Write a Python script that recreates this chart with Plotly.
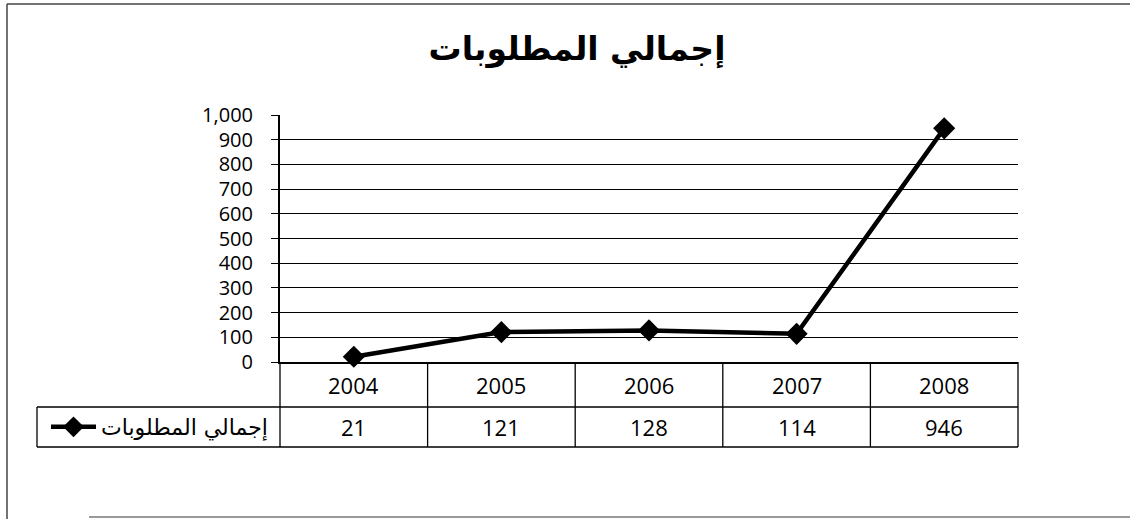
import plotly.graph_objects as go

years = ["2004", "2005", "2006", "2007", "2008"]
values = [21, 121, 128, 114, 946]
series_name = "إجمالي المطلوبات"
title_text = "إجمالي المطلوبات"
y_ticks = list(range(0, 1001, 100))

W, H = 1130, 519
L, R, T, B = 280, 1018, 115, 362  # plot area in px


def px(xp):
    return (xp - L) / (R - L)


def py(yp):
    return (B - yp) / (B - T)


fig = go.Figure()
fig.add_trace(go.Scatter(
    x=list(range(len(years))), y=values, mode="lines+markers", name=series_name,
    line=dict(color="black", width=4.5),
    marker=dict(symbol="diamond", size=17, color="black"),
    cliponaxis=False, showlegend=True,
))

shapes = []
line = dict(color="black", width=1.3)
row1 = 407
row2 = 447
shapes.append(dict(type="line", xref="paper", yref="paper", x0=px(L), x1=px(R), y0=py(row1), y1=py(row1), line=line))
shapes.append(dict(type="line", xref="paper", yref="paper", x0=px(37), x1=px(R), y0=py(row2), y1=py(row2), line=line))
shapes.append(dict(type="line", xref="paper", yref="paper", x0=px(37), x1=px(L), y0=py(row1), y1=py(row1), line=line))
shapes.append(dict(type="line", xref="paper", yref="paper", x0=px(37), x1=px(37), y0=py(row1), y1=py(row2), line=line))
for i in range(len(years) + 1):
    xb = i / len(years)
    shapes.append(dict(type="line", xref="paper", yref="paper", x0=xb, x1=xb, y0=0, y1=py(row2), line=line))

frame = dict(color="#444", width=1.5)
shapes.append(dict(type="line", xref="paper", yref="paper", x0=px(7), x1=px(7), y0=py(4), y1=py(519), line=frame))
shapes.append(dict(type="line", xref="paper", yref="paper", x0=px(7), x1=px(1130), y0=py(4), y1=py(4), line=frame))
shapes.append(dict(type="line", xref="paper", yref="paper", x0=px(89), x1=px(1130), y0=py(517), y1=py(517),
                   line=dict(color="#777", width=1.5)))

annotations = []
cell_font = dict(family="Open Sans", size=22, color="black")
for i, (yr, v) in enumerate(zip(years, values)):
    annotations.append(dict(x=i, xref="x", y=py(385), yref="paper", yanchor="middle", text=yr,
                            showarrow=False, font=cell_font))
    annotations.append(dict(x=i, xref="x", y=py(427), yref="paper", yanchor="middle", text=str(v),
                            showarrow=False, font=cell_font))

fig.update_layout(
    width=W, height=H,
    margin=dict(l=L, r=W - R, t=T, b=H - B),
    paper_bgcolor="white", plot_bgcolor="white",
    title=dict(text="<b>" + title_text + "</b>", x=577 / W, xanchor="center", y=1 - 48 / H, yanchor="middle",
               font=dict(family="DejaVu Sans", size=33, color="black")),
    xaxis=dict(range=[-0.5, len(years) - 0.5], showticklabels=False, showgrid=False, zeroline=False,
               showline=True, linecolor="black", linewidth=1.5, ticks=""),
    yaxis=dict(range=[0, 1000], tickvals=y_ticks, tickformat=",", showgrid=True, gridcolor="black",
               gridwidth=1, zeroline=False, showline=True, linecolor="black", linewidth=2,
               ticks="outside", ticklen=7, tickcolor="black", ticklabelstandoff=14,
               tickfont=dict(family="Open Sans", size=20, color="black")),
    shapes=shapes, annotations=annotations,
    showlegend=True,
    legend=dict(x=px(46), xanchor="left", y=py(427), yanchor="middle", bgcolor="rgba(0,0,0,0)",
                font=dict(family="DejaVu Sans", size=22, color="black"), itemwidth=45),
)

fig.write_html("out.html", config={"displayModeBar": False},
               post_script="document.body.style.margin='0';")
